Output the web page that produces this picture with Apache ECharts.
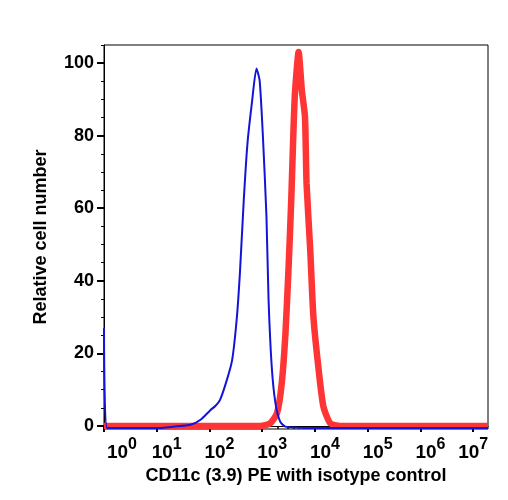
<!DOCTYPE html>
<html lang="en">
<head>
    <meta charset="UTF-8">
    <title>CD11c histogram</title>
    <script src="https://cdn.jsdelivr.net/npm/echarts@6/dist/echarts.min.js"></script>
</head>
<body style="margin:0">
<div id="main" style="width: 508px;height:500px;"></div>
<script type="text/javascript">
    // x values are log10 of the fluorescence intensity
    var isoX = [0, 0.06, 0.5, 1.0, 1.32, 1.64, 1.83, 2.02, 2.11, 2.20, 2.33, 2.43, 2.52, 2.58, 2.65, 2.72, 2.81, 2.89, 2.95, 3.01, 3.08, 3.12, 3.18, 3.25, 3.34, 3.44, 4, 5, 6, 7.28];
    var isoY = [27, -0.6, -0.6, -0.6, -0.2, 0.3, 1.7, 4.4, 5.5, 7.2, 12.7, 18.2, 30.1, 43, 62.3, 77.9, 89.8, 98.5, 95.3, 80.6, 57.7, 34.7, 16.3, 6.3, 1.2, -0.2, -0.6, -0.6, -0.6, -0.6];
    var cd11cX = [0, 1, 2, 2.96, 3.15, 3.28, 3.37, 3.44, 3.50, 3.55, 3.59, 3.62, 3.69, 3.75, 3.81, 3.84, 3.91, 3.97, 4.07, 4.16, 4.29, 4.48, 5, 6, 7.28];
    var cd11cY = [0, 0, 0, 0, 0.7, 3.5, 11.8, 25.5, 43.9, 62.3, 80.6, 91.7, 103.1, 92.6, 85.2, 66.9, 48.5, 30.1, 15.4, 5.3, 0.7, 0, 0, 0, 0];

    var decades = [0, 1, 2, 3, 4, 5, 6, 7];
    var yLabels = [0, 20, 40, 60, 80, 100];
    var yMinor = [5, 10, 15, 25, 30, 35, 45, 50, 55, 65, 70, 75, 85, 90, 95, 105];
    var xMinor = [];
    decades.slice(0, 7).forEach(function (d) {
        for (var k = 2; k <= 9; k++) xMinor.push(d + Math.log10(k));
    });

    function pairs(xs, ys) {
        return xs.map(function (x, i) { return [x, ys[i]]; });
    }

    var font = 'Liberation Sans';
    var myChart = echarts.init(document.getElementById('main'));
    myChart.setOption({
        animation: false,
        grid: {
            show: true,
            left: 104, right: 20, top: 45, bottom: 71,
            borderColor: '#000',
            borderWidth: 1
        },
        xAxis: [{
            type: 'value', position: 'bottom',
            min: 0, max: 7.28,
            splitLine: {show: false},
            axisLine: {lineStyle: {color: '#000', width: 1}},
            axisTick: {customValues: decades, length: 6, lineStyle: {color: '#000', width: 2}},
            axisLabel: {
                customValues: decades,
                showMinLabel: true,
                showMaxLabel: true,
                hideOverlap: false,
                margin: 8,
                color: '#000',
                formatter: function (v) {
                    var n = Math.round(v);
                    var st = n === 0 ? 'a' : (n === 7 ? 'c' : 'b');
                    return '{' + st + '|10}{s|' + n + '}';
                },
                rich: {
                    a: {fontFamily: font, fontSize: 19, fontWeight: 'bold', color: '#000', padding: [0, 0, 0, 36]},
                    b: {fontFamily: font, fontSize: 19, fontWeight: 'bold', color: '#000', padding: [0, 0, 0, 20]},
                    c: {fontFamily: font, fontSize: 19, fontWeight: 'bold', color: '#000'},
                    s: {fontFamily: font, fontSize: 16, fontWeight: 'bold', color: '#000', padding: [0, 0, 16, 0]}
                }
            },
            name: 'CD11c (3.9) PE with isotype control',
            nameLocation: 'middle',
            nameGap: 36,
            nameTextStyle: {fontFamily: font, fontSize: 18, fontWeight: 'bold', color: '#000'}
        }, {
            type: 'value', position: 'bottom',
            min: 0, max: 7.28,
            splitLine: {show: false},
            axisLine: {show: false},
            axisTick: {customValues: xMinor, length: 3, lineStyle: {color: '#000', width: 1.5}},
            axisLabel: {show: false}
        }],
        yAxis: [{
            type: 'value', position: 'left',
            min: -0.85, max: 105,
            splitLine: {show: false},
            axisLine: {show: true, lineStyle: {color: '#000', width: 1}},
            axisTick: {show: true, customValues: yLabels, length: 7, lineStyle: {color: '#000', width: 2}},
            axisLabel: {
                customValues: yLabels,
                margin: 10,
                color: '#000',
                fontFamily: font, fontSize: 18, fontWeight: 'bold'
            },
            name: 'Relative cell number',
            nameLocation: 'middle',
            nameRotate: 90,
            nameGap: 54,
            nameTextStyle: {fontFamily: font, fontSize: 18, fontWeight: 'bold', color: '#000'}
        }, {
            type: 'value', position: 'left',
            min: -0.85, max: 105,
            splitLine: {show: false},
            axisLine: {show: false},
            axisTick: {show: true, customValues: yMinor, length: 3, lineStyle: {color: '#000', width: 1}},
            axisLabel: {show: false}
        }],
        series: [{
            name: 'CD11c',
            type: 'line',
            showSymbol: false,
            smooth: 0.2,
            data: pairs(cd11cX, cd11cY),
            lineStyle: {color: '#ff3535', width: 6.5}
        }, {
            name: 'Isotype',
            type: 'line',
            showSymbol: false,
            smooth: 0.2,
            data: pairs(isoX, isoY),
            lineStyle: {color: '#1414d8', width: 2}
        }]
    });
</script>
</body>
</html>
